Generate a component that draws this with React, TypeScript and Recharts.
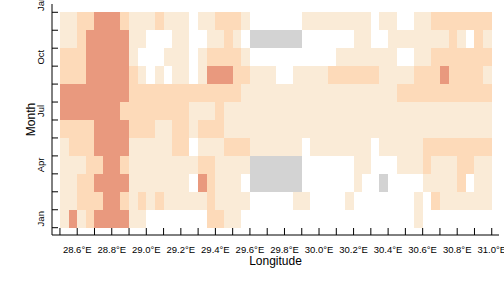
import { ComposedChart, XAxis, YAxis, ReferenceArea, Scatter } from "recharts";

// left edge of each 0.05° longitude bin
const lons = [
  28.5, 28.55, 28.6, 28.65, 28.7, 28.75, 28.8, 28.85, 28.9, 28.95,
  29.0, 29.05, 29.1, 29.15, 29.2, 29.25, 29.3, 29.35, 29.4, 29.45,
  29.5, 29.55, 29.6, 29.65, 29.7, 29.75, 29.8, 29.85, 29.9, 29.95,
  30.0, 30.05, 30.1, 30.15, 30.2, 30.25, 30.3, 30.35, 30.4, 30.45,
  30.5, 30.55, 30.6, 30.65, 30.7, 30.75, 30.8, 30.85, 30.9, 30.95,
];
const binWidth = 0.05;

// one char per bin: . = empty, 1 = low, 2 = mid, 3 = high, g = missing
const jan = "1312333311.......2211....................1........";
const feb = "1122233212121111121111.....11....1.......1.2111111";
const mar = "112233331111111.32111.gggggg......1..g....11112.11";
const apr = "1112233211111111221111gggggg......11...11121112211";
const may = "122233331111122.111222111111.1111111.1111122222222";
const jun = "22223333222112212221111111111111111111111111111111";
const jul = "33333332222222211121111111111111111111111111111111";
const aug = "33333333222222222222211111111111111111122222222222";
const sep = "2223333321.1.11.133322111..11112222221111222322221";
const oct = "222333331...111.122221..........1111111..112222222";
const nov = "1123333311...11..1121.gggggg......11..111111121.21";
const dec = "112233321112111.112221......11111111.11..112222222";
const monthRows = [jan, feb, mar, apr, may, jun, jul, aug, sep, oct, nov, dec];

const levelColors: Record<string, string> = {
  "1": "#FAEBD7",
  "2": "#FDDAB9",
  "3": "#E9997E",
  g: "#D3D3D3",
};

const xTicks = [
  28.5, 28.6, 28.7, 28.8, 28.9, 29.0, 29.1, 29.2, 29.3, 29.4, 29.5, 29.6, 29.7,
  29.8, 29.9, 30.0, 30.1, 30.2, 30.3, 30.4, 30.5, 30.6, 30.7, 30.8, 30.9, 31.0,
];
const yMarks = [0.5, 1.5, 2.5, 3.5, 4.5, 5.5, 6.5, 7.5, 8.5, 9.5, 10.5, 11.5, 12.5];
const yLabelValues = [1, 4, 7, 10, 13];
const yLabelNames = ["Jan", "Apr", "Jul", "Oct", "Jan"];

const FONT = '"Liberation Sans", Arial, sans-serif';

const cells = monthRows.flatMap((row, mi) =>
  row.split("").map((c, li) => ({ lon: lons[li], month: mi + 1, level: c }))
).filter((c) => c.level !== ".");

const LeftTick = ({ x, y, payload }: any) => {
  const v = payload.value;
  const i = yLabelValues.indexOf(v);
  if (i < 0) return <line x1={x} y1={y} x2={x + 6} y2={y} stroke="#000" />;
  return (
    <text
      transform={`translate(${x - 8.5},${y}) rotate(-90)`}
      textAnchor="middle"
      fontSize={9.5}
      fontFamily={FONT}
      fill="#000"
    >
      {yLabelNames[i]}
    </text>
  );
};

const RightTick = ({ x, y }: any) => (
  <line x1={x} y1={y} x2={x - 7} y2={y} stroke="#000" />
);

const BottomTick = ({ x, y, payload }: any) => {
  const v = payload.value;
  const showLabel = Math.round(v * 10) % 2 === 0;
  return (
    <g>
      <line x1={x} y1={y} x2={x} y2={y - 7} stroke="#000" />
      {showLabel && (
        <text x={x} y={y + 17.5} textAnchor="middle" fontSize={9.5} fontFamily={FONT} fill="#000">
          {`${v.toFixed(1)}°E`}
        </text>
      )}
    </g>
  );
};

const TopTick = ({ x, y }: any) => (
  <line x1={x} y1={y} x2={x} y2={y + 6} stroke="#000" />
);

export default function App() {
  return (
    <div style={{ position: "absolute", left: 0, top: 0, width: 504, height: 288, background: "#fff" }}>
      <ComposedChart width={504} height={288} margin={{ top: 4, right: 5, bottom: 0, left: 0 }}>
        <XAxis
          dataKey="lon"
          type="number"
          domain={[28.454, 31.042]}
          allowDataOverflow
          ticks={xTicks}
          interval={0}
          tickSize={0}
          tickMargin={0}
          tickLine={false}
          height={53}
          axisLine={{ stroke: "#000" }}
          tick={<BottomTick />}
          label={{
            content: ({ viewBox }: any) => (
              <text
                x={viewBox.x + viewBox.width / 2}
                y={viewBox.y + 29.5}
                textAnchor="middle"
                fontSize={12}
                fontFamily={FONT}
                fill="#000"
              >
                Longitude
              </text>
            ),
          }}
        />
        <XAxis
          xAxisId="top"
          orientation="top"
          dataKey="lon"
          type="number"
          domain={[28.454, 31.042]}
          allowDataOverflow
          ticks={xTicks}
          interval={0}
          tickSize={0}
          tickMargin={0}
          tickLine={false}
          height={0}
          axisLine={{ stroke: "#000" }}
          tick={<TopTick />}
        />
        <YAxis
          dataKey="month"
          type="number"
          domain={[0.093, 12.962]}
          allowDataOverflow
          ticks={[...yMarks, ...yLabelValues].sort((a, b) => a - b)}
          interval={0}
          tickSize={0}
          tickMargin={0}
          tickLine={false}
          width={52}
          axisLine={{ stroke: "#000" }}
          tick={<LeftTick />}
          label={{
            content: ({ viewBox }: any) => (
              <text
                transform={`translate(${viewBox.x + 35},${viewBox.y + viewBox.height / 2}) rotate(-90)`}
                textAnchor="middle"
                fontSize={12}
                fontFamily={FONT}
                fill="#000"
              >
                Month
              </text>
            ),
          }}
        />
        <YAxis
          yAxisId="right"
          orientation="right"
          type="number"
          domain={[0.093, 12.962]}
          allowDataOverflow
          ticks={yMarks}
          interval={0}
          tickSize={0}
          tickMargin={0}
          tickLine={false}
          width={0}
          axisLine={{ stroke: "#000" }}
          tick={<RightTick />}
        />
        {cells.map((c) => (
          <ReferenceArea
            key={`${c.month}-${c.lon}`}
            x1={c.lon}
            x2={c.lon + binWidth}
            y1={c.month - 0.5}
            y2={c.month + 0.5}
            fill={levelColors[c.level]}
            fillOpacity={1}
            stroke="none"
            shapeRendering="crispEdges"
            ifOverflow="visible"
          />
        ))}
        <Scatter data={cells} isAnimationActive={false} shape={() => <g />} />
      </ComposedChart>
    </div>
  );
}
